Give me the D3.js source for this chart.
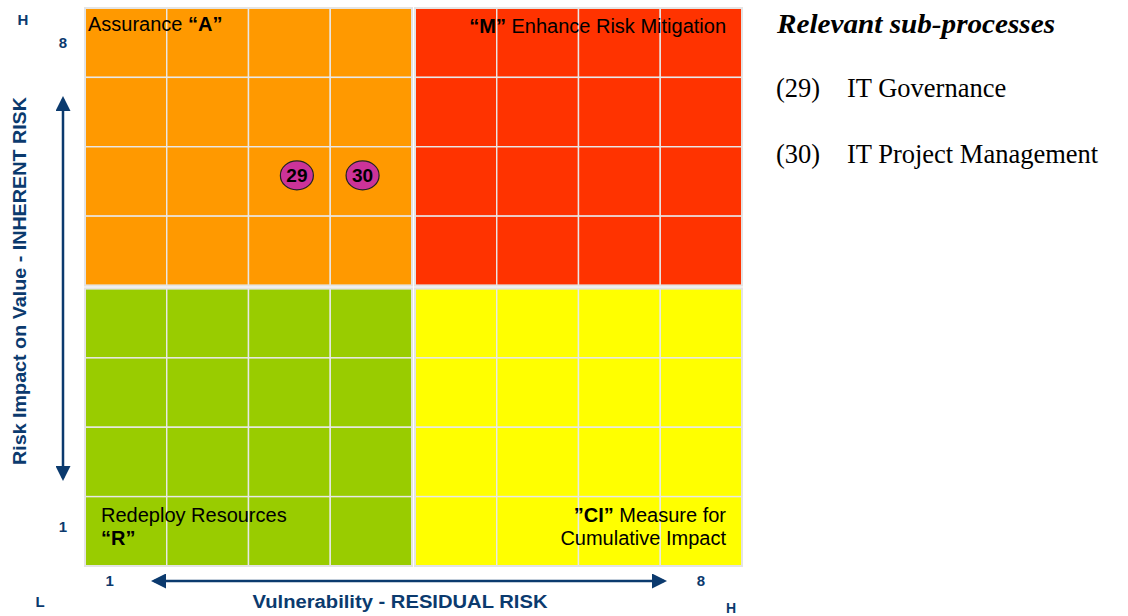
<!DOCTYPE html>
<html lang="en">
<head>
<meta charset="utf-8">
<title>Risk matrix</title>
<script src="https://d3js.org/d3.v7.min.js"></script>
<style>
  body { margin: 0; background: #fff; }
  .navy { fill: #0b3a6e; font-family: "Liberation Sans", Arial, sans-serif; font-weight: bold; }
  .qlabel { font-family: "Liberation Sans", Arial, sans-serif; font-size: 20px; fill: #000; }
  .side { font-family: "Liberation Serif", "Times New Roman", serif; font-size: 26.5px; fill: #000; }
</style>
</head>
<body>
<script>
// quadrants: column / row in the 2x2 grid (0 = low)
const quadKeys = ["A", "M", "R", "CI"];
const quadCol = [0, 1, 0, 1];
const quadRow = [1, 1, 0, 0];

// sub-processes placed on the 8x8 grid (domain units, 0..8)
const spIds = [29, 30];
const spX = [2.58, 3.38];
const spY = [5.6, 5.6];
const spNames = ["IT Governance", "IT Project Management"];

// tick labels
const xTicks = [{ v: 0.3, t: "1" }, { v: 7.5, t: "8" }];
const yTicks = [{ v: 7.5, t: "8" }, { v: 0.57, t: "1" }];

const W = 1128, H = 616;
const plotL = 85, plotR = 742, plotT = 8, plotB = 566;

const x = d3.scaleLinear().domain([0, 8]).range([plotL, plotR]);
const y = d3.scaleLinear().domain([0, 8]).range([plotB, plotT]);

const color = d3.scaleOrdinal()
  .domain(quadKeys)
  .range(["#ff9900", "#ff3300", "#99cc00", "#ffff00"]);

const svg = d3.select("body").append("svg")
  .attr("width", W).attr("height", H);

// quadrants with 4x4 cells
const gap = 1.5;
quadKeys.forEach((k, i) => {
  const x0 = x(quadCol[i] * 4) + (quadCol[i] ? gap : 0);
  const x1 = x(quadCol[i] * 4 + 4) - (quadCol[i] ? 0 : gap);
  const y0 = y(quadRow[i] * 4 + 4) + (quadRow[i] ? 0 : gap);
  const y1 = y(quadRow[i] * 4) - (quadRow[i] ? gap : 0);
  const g = svg.append("g");
  const cw = (x1 - x0) / 4, ch = (y1 - y0) / 4;
  for (let c = 0; c < 4; c++) {
    for (let r = 0; r < 4; r++) {
      g.append("rect")
        .attr("x", x0 + c * cw).attr("y", y0 + r * ch)
        .attr("width", cw).attr("height", ch)
        .attr("fill", color(k))
        .attr("stroke", "#e8e8e8").attr("stroke-width", 1.4);
    }
  }
  g.append("rect")
    .attr("x", x0).attr("y", y0)
    .attr("width", x1 - x0).attr("height", y1 - y0)
    .attr("fill", "none")
    .attr("stroke", "#e4e4e4").attr("stroke-width", 2);
});

// quadrant labels
function richText(px, py, anchor, parts) {
  const t = svg.append("text").attr("class", "qlabel")
    .attr("x", px).attr("y", py).attr("text-anchor", anchor);
  parts.forEach(p => t.append("tspan").attr("font-weight", p[1] ? "bold" : "normal").text(p[0]));
}
richText(88, 31, "start", [["Assurance ", false], ["\u201CA\u201D", true]]);
richText(726, 33, "end", [["\u201CM\u201D", true], [" Enhance Risk Mitigation", false]]);
richText(101, 522, "start", [["Redeploy Resources", false]]);
richText(101, 545, "start", [["\u201CR\u201D", true]]);
richText(726, 522, "end", [["\u201DCI\u201D", true], [" Measure for", false]]);
richText(726, 545, "end", [["Cumulative Impact", false]]);

// sub-process markers
const pts = svg.append("g").selectAll("g")
  .data(spIds).enter().append("g")
  .attr("transform", (d, i) => "translate(" + x(spX[i]) + "," + y(spY[i]) + ")");
pts.append("ellipse")
  .attr("rx", 16.5).attr("ry", 14.5)
  .attr("fill", "#cc3399").attr("stroke", "#222").attr("stroke-width", 1.2);
pts.append("text")
  .attr("text-anchor", "middle").attr("dy", "0.36em")
  .attr("font-family", "Liberation Sans, Arial, sans-serif")
  .attr("font-weight", "bold").attr("font-size", 19)
  .text(d => d);

// tick labels
svg.selectAll(".xt").data(xTicks).enter().append("text")
  .attr("class", "navy").attr("font-size", 15).attr("text-anchor", "middle")
  .attr("x", d => x(d.v)).attr("y", 586).text(d => d.t);
svg.selectAll(".yt").data(yTicks).enter().append("text")
  .attr("class", "navy").attr("font-size", 15).attr("text-anchor", "middle")
  .attr("x", 63).attr("y", d => y(d.v) + 5.5).text(d => d.t);

// L / H markers
svg.append("text").attr("class", "navy").attr("font-size", 15).attr("text-anchor", "middle")
  .attr("x", 23).attr("y", 25).text("H");
svg.append("text").attr("class", "navy").attr("font-size", 15).attr("text-anchor", "middle")
  .attr("x", 40).attr("y", 607).text("L");
svg.append("text").attr("class", "navy").attr("font-size", 14).attr("text-anchor", "middle")
  .attr("x", 731).attr("y", 613).text("H");

// double-headed arrows
const defs = svg.append("defs");
defs.append("marker").attr("id", "ah")
  .attr("viewBox", "0 0 10 10").attr("refX", 8).attr("refY", 5)
  .attr("markerWidth", 6).attr("markerHeight", 6)
  .attr("markerUnits", "strokeWidth")
  .attr("orient", "auto-start-reverse")
  .append("path").attr("d", "M0,0 L10,5 L0,10 Z").attr("fill", "#0b3a6e");

svg.append("line")
  .attr("x1", 63).attr("x2", 63).attr("y1", 99).attr("y2", 478)
  .attr("stroke", "#0b3a6e").attr("stroke-width", 2.5)
  .attr("marker-start", "url(#ah)").attr("marker-end", "url(#ah)");
svg.append("line")
  .attr("x1", 154).attr("x2", 664).attr("y1", 581).attr("y2", 581)
  .attr("stroke", "#0b3a6e").attr("stroke-width", 2.5)
  .attr("marker-start", "url(#ah)").attr("marker-end", "url(#ah)");

// axis titles
svg.append("text").attr("class", "navy").attr("font-size", 18).attr("text-anchor", "middle")
  .attr("x", 400).attr("y", 608)
  .attr("textLength", 295).attr("lengthAdjust", "spacingAndGlyphs")
  .text("Vulnerability - RESIDUAL RISK");
svg.append("text").attr("class", "navy").attr("font-size", 18).attr("text-anchor", "middle")
  .attr("transform", "translate(26,281) rotate(-90)")
  .attr("textLength", 368).attr("lengthAdjust", "spacingAndGlyphs")
  .text("Risk Impact on Value - INHERENT RISK");

// side list
svg.append("text").attr("class", "side")
  .attr("x", 777).attr("y", 33)
  .attr("font-size", 29)
  .attr("textLength", 278).attr("lengthAdjust", "spacingAndGlyphs")
  .attr("font-weight", "bold").attr("font-style", "italic")
  .text("Relevant sub-processes");
const items = svg.selectAll(".item").data(spIds).enter().append("g")
  .attr("class", "item");
items.append("text").attr("class", "side")
  .attr("x", 776).attr("y", (d, i) => 97 + i * 66)
  .text(d => "(" + d + ")");
items.append("text").attr("class", "side")
  .attr("x", 847).attr("y", (d, i) => 97 + i * 66)
  .text((d, i) => spNames[i]);
</script>
</body>
</html>
